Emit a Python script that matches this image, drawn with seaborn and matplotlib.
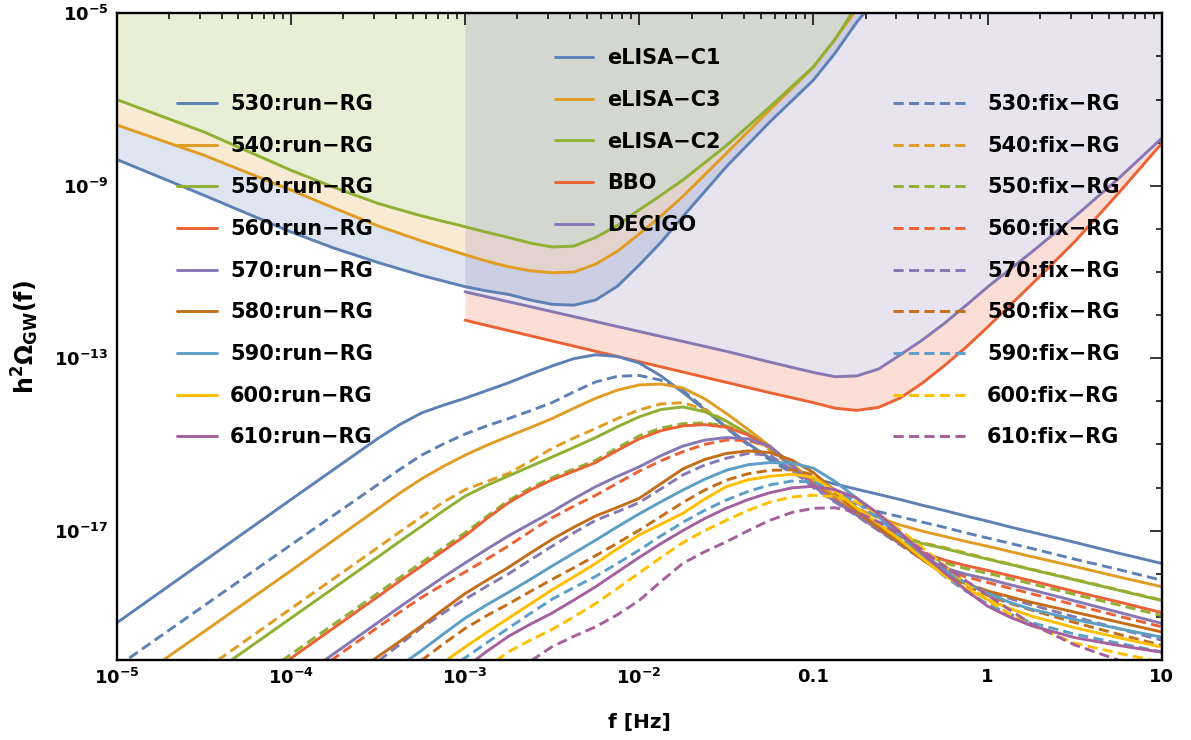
import numpy as np
import pandas as pd
import matplotlib
matplotlib.use("Agg")
import matplotlib.pyplot as plt
import seaborn as sns
from matplotlib.lines import Line2D
from matplotlib.ticker import FixedLocator, NullFormatter

# ---------------- data (log10 values) ----------------
LOG_F = [-5, -4, -3.5, -3.375, -3.25, -3.125, -3, -2.875, -2.75, -2.625, -2.5, -2.375,
         -2.25, -2.125, -2, -1.875, -1.75, -1.625, -1.5, -1.375, -1.25, -1.125, -1,
         -0.875, -0.75, -0.625, -0.5, -0.375, -0.25, -0.125, 0, 0.125, 0.25, 0.5, 0.75, 1]

MASSES = ["530", "540", "550", "560", "570", "580", "590", "600", "610"]

run_530 = [-19.14, -16.28, -14.86, -14.54, -14.27, -14.09, -13.93, -13.75, -13.57, -13.37, -13.18, -13.01,
           -12.92, -12.96, -13.11, -13.41, -13.79, -14.19, -14.60, -14.98, -15.32, -15.58, -15.79,
           -15.92, -16.04, -16.16, -16.28, -16.41, -16.53, -16.66, -16.78, -16.91, -17.03, -17.27, -17.52, -17.76]
run_540 = [-20.76, -17.93, -16.49, -16.13, -15.80, -15.51, -15.25, -15.02, -14.81, -14.61, -14.40, -14.16,
           -13.93, -13.74, -13.62, -13.60, -13.69, -13.94, -14.28, -14.65, -15.04, -15.45, -15.85,
           -16.19, -16.48, -16.70, -16.87, -17.01, -17.13, -17.25, -17.36, -17.48, -17.60, -17.83, -18.07, -18.30]
run_550 = [-21.88, -19.03, -17.61, -17.25, -16.90, -16.54, -16.20, -15.95, -15.73, -15.51, -15.29, -15.07,
           -14.84, -14.59, -14.36, -14.19, -14.13, -14.24, -14.46, -14.75, -15.09, -15.49, -15.90,
           -16.27, -16.60, -16.90, -17.15, -17.30, -17.41, -17.54, -17.66, -17.78, -17.90, -18.14, -18.38, -18.62]
run_560 = [-22.80, -19.96, -18.53, -18.17, -17.82, -17.47, -17.12, -16.72, -16.35, -16.06, -15.82, -15.62,
           -15.42, -15.14, -14.87, -14.68, -14.57, -14.54, -14.60, -14.78, -15.06, -15.48, -15.92,
           -16.28, -16.62, -16.96, -17.27, -17.50, -17.68, -17.81, -17.92, -18.04, -18.16, -18.41, -18.65, -18.90]
run_570 = [-23.41, -20.56, -19.13, -18.77, -18.42, -18.08, -17.75, -17.43, -17.12, -16.84, -16.56, -16.26,
           -15.98, -15.74, -15.52, -15.26, -15.04, -14.90, -14.84, -14.87, -15.04, -15.48, -15.97,
           -16.32, -16.64, -16.98, -17.31, -17.61, -17.86, -18.01, -18.12, -18.25, -18.37, -18.63, -18.89, -19.15]
run_580 = [-24.20, -21.35, -19.92, -19.57, -19.21, -18.83, -18.46, -18.15, -17.85, -17.52, -17.20, -16.92,
           -16.66, -16.46, -16.25, -15.91, -15.57, -15.35, -15.21, -15.15, -15.19, -15.36, -15.65,
           -16.09, -16.57, -16.94, -17.29, -17.67, -18.01, -18.23, -18.40, -18.53, -18.66, -18.89, -19.12, -19.35]
run_590 = [-24.77, -21.92, -20.49, -20.14, -19.78, -19.40, -19.03, -18.72, -18.43, -18.13, -17.82, -17.52,
           -17.22, -16.91, -16.61, -16.33, -16.06, -15.81, -15.60, -15.47, -15.42, -15.43, -15.55,
           -15.86, -16.25, -16.67, -17.10, -17.52, -17.91, -18.21, -18.45, -18.66, -18.82, -19.06, -19.27, -19.47]
run_600 = [-25.40, -22.55, -21.13, -20.78, -20.42, -20.06, -19.70, -19.36, -19.03, -18.70, -18.37, -18.07,
           -17.76, -17.42, -17.10, -16.85, -16.60, -16.27, -15.98, -15.82, -15.74, -15.69, -15.76,
           -16.08, -16.48, -16.84, -17.22, -17.64, -18.03, -18.34, -18.60, -18.80, -18.98, -19.25, -19.48, -19.70]
run_610 = [-25.88, -23.03, -21.60, -21.25, -20.89, -20.54, -20.18, -19.80, -19.45, -19.17, -18.91, -18.61,
           -18.30, -17.96, -17.62, -17.30, -17.00, -16.72, -16.48, -16.28, -16.12, -16.01, -15.97,
           -16.05, -16.25, -16.61, -17.05, -17.51, -17.96, -18.38, -18.75, -19.00, -19.20, -19.48, -19.66, -19.82]

fix_530 = [-20.16, -17.33, -15.93, -15.58, -15.25, -14.99, -14.76, -14.57, -14.40, -14.22, -14.03, -13.78,
           -13.55, -13.42, -13.40, -13.51, -13.75, -14.16, -14.62, -15.01, -15.36, -15.65, -15.90,
           -16.17, -16.40, -16.56, -16.68, -16.80, -16.92, -17.05, -17.17, -17.29, -17.41, -17.66, -17.90, -18.15]
fix_540 = [-21.66, -18.81, -17.39, -17.03, -16.68, -16.34, -16.05, -15.86, -15.67, -15.39, -15.09, -14.85,
           -14.63, -14.40, -14.20, -14.06, -14.03, -14.19, -14.46, -14.78, -15.13, -15.50, -15.87,
           -16.23, -16.57, -16.88, -17.13, -17.28, -17.39, -17.52, -17.65, -17.77, -17.89, -18.13, -18.37, -18.61]
fix_550 = [-22.72, -19.87, -18.45, -18.09, -17.74, -17.40, -17.05, -16.67, -16.30, -16.01, -15.77, -15.57,
           -15.37, -15.08, -14.80, -14.62, -14.52, -14.50, -14.57, -14.76, -15.05, -15.47, -15.92,
           -16.28, -16.62, -16.96, -17.27, -17.53, -17.74, -17.88, -17.99, -18.11, -18.23, -18.48, -18.72, -18.97]
fix_560 = [-23.52, -20.67, -19.24, -18.89, -18.55, -18.25, -17.96, -17.66, -17.35, -17.02, -16.70, -16.43,
           -16.18, -15.90, -15.62, -15.38, -15.17, -15.00, -14.90, -14.91, -15.06, -15.47, -15.94,
           -16.30, -16.64, -16.97, -17.29, -17.62, -17.90, -18.07, -18.20, -18.33, -18.46, -18.72, -18.98, -19.23]
fix_570 = [-24.31, -21.46, -20.03, -19.64, -19.25, -18.91, -18.59, -18.29, -18.00, -17.68, -17.36, -17.05,
           -16.76, -16.56, -16.35, -16.03, -15.71, -15.48, -15.32, -15.21, -15.25, -15.58, -16.00,
           -16.34, -16.66, -17.00, -17.33, -17.67, -17.98, -18.21, -18.40, -18.57, -18.72, -19.00, -19.27, -19.54]
fix_580 = [-25.00, -22.15, -20.72, -20.37, -20.01, -19.63, -19.27, -18.97, -18.70, -18.41, -18.13, -17.86,
           -17.58, -17.29, -16.99, -16.67, -16.35, -16.06, -15.83, -15.68, -15.60, -15.59, -15.70,
           -16.06, -16.50, -16.86, -17.22, -17.61, -17.98, -18.27, -18.50, -18.68, -18.84, -19.13, -19.40, -19.66]
fix_590 = [-25.65, -22.80, -21.37, -21.02, -20.66, -20.31, -19.95, -19.60, -19.26, -18.92, -18.59, -18.32,
           -18.06, -17.76, -17.45, -17.12, -16.81, -16.53, -16.29, -16.09, -15.94, -15.85, -15.87,
           -16.06, -16.35, -16.72, -17.15, -17.61, -18.05, -18.40, -18.70, -18.93, -19.13, -19.40, -19.61, -19.81]
fix_600 = [-26.22, -23.37, -21.95, -21.60, -21.24, -20.88, -20.52, -20.17, -19.81, -19.54, -19.29, -19.00,
           -18.69, -18.34, -17.98, -17.62, -17.28, -17.00, -16.76, -16.53, -16.34, -16.22, -16.18,
           -16.21, -16.34, -16.62, -16.99, -17.39, -17.80, -18.22, -18.61, -18.93, -19.19, -19.61, -19.84, -20.05]
fix_610 = [-26.81, -23.96, -22.54, -22.18, -21.82, -21.47, -21.11, -20.76, -20.40, -20.03, -19.69, -19.45,
           -19.23, -18.95, -18.62, -18.18, -17.76, -17.49, -17.26, -17.00, -16.76, -16.58, -16.48,
           -16.47, -16.57, -16.80, -17.10, -17.45, -17.82, -18.16, -18.49, -18.83, -19.16, -19.65, -20.00, -20.30]

# detector sensitivity curves
ELISA_LOG_F = [-5, -4.5, -4, -3.75, -3.5, -3.25, -3, -2.875, -2.75, -2.625, -2.5, -2.375, -2.25,
               -2.125, -2, -1.875, -1.75, -1.5, -1.25, -1, -0.875, -0.75, -0.5]
ELISA_C1 = [-8.39, -9.22, -10.07, -10.45, -10.78, -11.08, -11.34, -11.44, -11.52, -11.65, -11.75, -11.77,
            -11.65, -11.33, -10.84, -10.31, -9.72, -8.56, -7.52, -6.55, -5.92, -5.20, -4.00]
ELISA_C3 = [-7.59, -8.29, -9.10, -9.52, -9.93, -10.28, -10.60, -10.75, -10.88, -10.97, -11.02, -11.00,
            -10.82, -10.52, -10.12, -9.70, -9.25, -8.25, -7.24, -6.25, -5.60, -4.90, -3.80]
ELISA_C2 = [-7.00, -7.75, -8.64, -9.04, -9.41, -9.70, -9.95, -10.08, -10.20, -10.33, -10.42, -10.40,
            -10.20, -9.92, -9.56, -9.22, -8.87, -8.07, -7.17, -6.24, -5.60, -4.81, -3.70]

SPACE_LOG_F = [-3, -2.5, -2, -1.5, -1.25, -1, -0.875, -0.75, -0.625, -0.5, -0.375,
               -0.25, -0.125, 0, 0.25, 0.5, 0.75, 1]
BBO = [-12.12, -12.60, -13.08, -13.56, -13.80, -14.03, -14.16, -14.21, -14.14, -13.92, -13.58,
       -13.18, -12.75, -12.28, -11.30, -10.30, -9.18, -8.02]
DECIGO = [-11.46, -11.92, -12.38, -12.84, -13.09, -13.33, -13.43, -13.41, -13.25, -12.92, -12.58,
          -12.20, -11.78, -11.35, -10.55, -9.72, -8.84, -7.90]

XTICKS = [1e-5, 1e-4, 1e-3, 1e-2, 0.1, 1, 10]
XTICK_LABELS = [r"$10^{-5}$", r"$10^{-4}$", r"$10^{-3}$", r"$10^{-2}$", "0.1", "1", "10"]
YTICKS = [1e-17, 1e-13, 1e-9, 1e-5]
YTICK_LABELS = [r"$10^{-17}$", r"$10^{-13}$", r"$10^{-9}$", r"$10^{-5}$"]

# ---------------- styling ----------------
COLORS = ["#5E81B5", "#E19C24", "#8FB032", "#EB6235", "#8778B3",
          "#C56E1A", "#5D9EC7", "#FFBF00", "#A5609D"]
DASH = (3.5, 1.8)
LW = 2.1

sns.set_theme(style="white")
plt.rcParams["font.family"] = ["DejaVu Sans"]
plt.rcParams["font.weight"] = "bold"
plt.rcParams["mathtext.fontset"] = "dejavusans"
plt.rcParams["mathtext.default"] = "bf"
for key in ["text.color", "axes.labelcolor", "xtick.color", "ytick.color", "axes.edgecolor"]:
    plt.rcParams[key] = "black"

fig = plt.figure(figsize=(11.91, 7.40), dpi=100)
ax = fig.add_axes([0.09798, 0.10811, 0.87741, 0.87392])
ax.set_xscale("log")
ax.set_yscale("log")

# ---------------- fills ----------------
fe = np.power(10.0, ELISA_LOG_F)
c1 = np.power(10.0, ELISA_C1)
c3 = np.power(10.0, ELISA_C3)
c2 = np.power(10.0, ELISA_C2)
top = np.full_like(fe, 1e-5)
ax.fill_between(fe, c1, c3, color=COLORS[0], alpha=0.2, lw=0, zorder=0)
ax.fill_between(fe, c3, c2, color=COLORS[1], alpha=0.2, lw=0, zorder=0)
ax.fill_between(fe, c2, top, color=COLORS[2], alpha=0.2, lw=0, zorder=0)

fs = np.power(10.0, SPACE_LOG_F)
bbo = np.power(10.0, BBO)
dec = np.power(10.0, DECIGO)
ax.fill_between(fs, bbo, dec, color=COLORS[3], alpha=0.2, lw=0, zorder=0)
ax.fill_between(fs, dec, np.full_like(fs, 1e-5), color=COLORS[4], alpha=0.2, lw=0, zorder=0)

# ---------------- detector curves ----------------
for xs, ys, col in [(fe, c1, COLORS[0]), (fe, c3, COLORS[1]), (fe, c2, COLORS[2]),
                    (fs, bbo, COLORS[3]), (fs, dec, COLORS[4])]:
    sns.lineplot(x=xs, y=ys, color=col, linewidth=LW, ax=ax, estimator=None,
                 sort=False, legend=False)

# ---------------- GW spectra ----------------
runs = [run_530, run_540, run_550, run_560, run_570, run_580, run_590, run_600, run_610]
fixes = [fix_530, fix_540, fix_550, fix_560, fix_570, fix_580, fix_590, fix_600, fix_610]
rows = []
for m, r, fx in zip(MASSES, runs, fixes):
    for lf, lr, lx in zip(LOG_F, r, fx):
        rows.append({"f": 10.0 ** lf, "omega": 10.0 ** lr, "mass": m, "rg": "run"})
        rows.append({"f": 10.0 ** lf, "omega": 10.0 ** lx, "mass": m, "rg": "fix"})
df = pd.DataFrame(rows)
palette = dict(zip(MASSES, COLORS))
sns.lineplot(data=df, x="f", y="omega", hue="mass", style="rg", hue_order=MASSES,
             style_order=["run", "fix"], palette=palette,
             dashes={"run": "", "fix": DASH}, estimator=None, linewidth=LW,
             legend=False, ax=ax)

# ---------------- axes ----------------
ax.set_xlim(1e-5, 10)
ax.set_ylim(1e-20, 1e-5)
ax.xaxis.set_major_locator(FixedLocator(XTICKS))
ax.set_xticklabels(XTICK_LABELS)
ax.xaxis.set_minor_locator(FixedLocator([k * 10.0 ** e for e in range(-5, 1) for k in range(2, 10)]))
ax.xaxis.set_minor_formatter(NullFormatter())
ax.yaxis.set_major_locator(FixedLocator(YTICKS))
ax.set_yticklabels(YTICK_LABELS)
ax.yaxis.set_minor_locator(FixedLocator([10.0 ** e for e in range(-20, -4) if e not in (-17, -13, -9, -5)]))
ax.yaxis.set_minor_formatter(NullFormatter())
ax.tick_params(which="both", direction="in", top=True, right=True, width=1.1, color="black")
ax.tick_params(which="major", length=8.5, labelsize=13, pad=6, labelcolor="black")
ax.tick_params(which="minor", length=4.3)
for sp in ax.spines.values():
    sp.set_color("black")
    sp.set_linewidth(1.7)

ax.set_xlabel("f [Hz]", fontsize=14.5, fontweight="bold", color="black")
ax.set_ylabel(r"$h^2\Omega_{GW}(f)$", fontsize=17, color="black")
ax.xaxis.set_label_coords(0.5, -0.082)
ax.yaxis.set_label_coords(-0.0724, 0.5)

# ---------------- legends ----------------
leg_font = {"size": 15, "weight": "bold"}
run_handles = [Line2D([], [], color=c, lw=LW) for c in COLORS]
run_labels = [f"{m}:run\u2212RG" for m in MASSES]
fix_handles = [Line2D([], [], color=c, lw=LW, dashes=DASH) for c in COLORS]
fix_labels = [f"{m}:fix\u2212RG" for m in MASSES]
det_handles = [Line2D([], [], color=COLORS[i], lw=LW) for i in range(5)]
det_labels = ["eLISA\u2212C1", "eLISA\u2212C3", "eLISA\u2212C2", "BBO", "DECIGO"]

common = dict(frameon=False, borderpad=0, borderaxespad=0, labelspacing=1.04, prop=leg_font,
              loc="upper left")
l1 = ax.legend(run_handles, run_labels, bbox_to_anchor=(0.0577, 0.875),
               handlelength=1.92, handletextpad=0.62, **common)
ax.add_artist(l1)
l2 = ax.legend(det_handles, det_labels, bbox_to_anchor=(0.4194, 0.946),
               handlelength=1.83, handletextpad=0.67, **common)
ax.add_artist(l2)
l3 = ax.legend(fix_handles, fix_labels, bbox_to_anchor=(0.7428, 0.875),
               handlelength=3.6, handletextpad=0.91, **common)

fig.savefig("out.png", dpi=100)
